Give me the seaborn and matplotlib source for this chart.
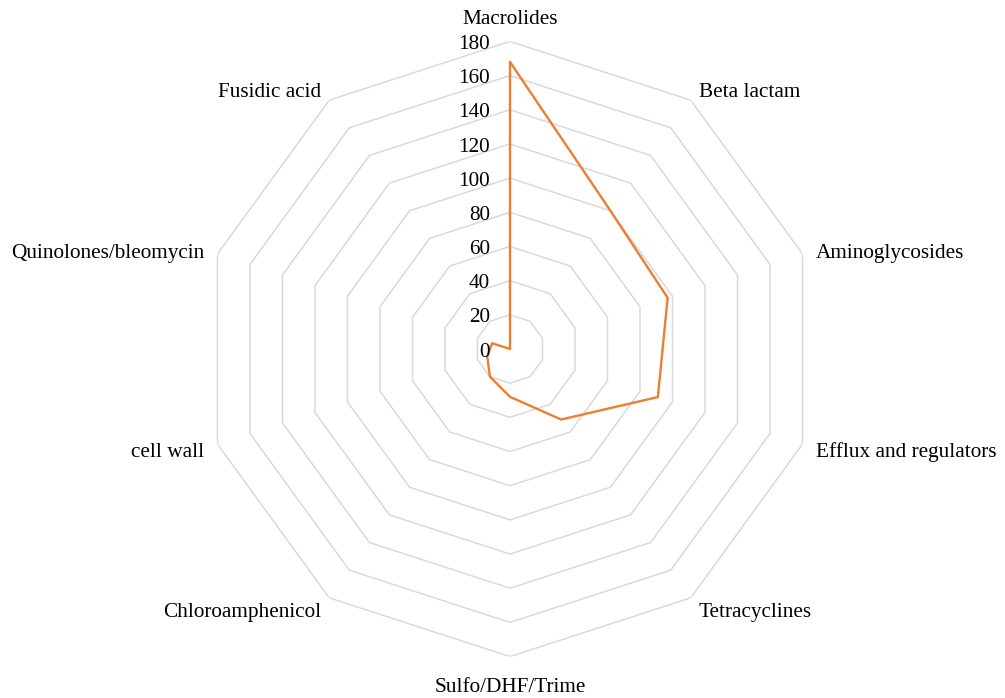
import numpy as np
import pandas as pd
import matplotlib
matplotlib.use("Agg")
import matplotlib.pyplot as plt
import seaborn as sns

categories = ["Macrolides", "Beta lactam", "Aminoglycosides", "Efflux and regulators",
              "Tetracyclines", "Sulfo/DHF/Trime", "Chloroamphenicol", "cell wall",
              "Quinolones/bleomycin", "Fusidic acid"]
values = [168, 100, 97, 91, 51, 28, 20, 14, 11, 0]
ring_ticks = [0, 20, 40, 60, 80, 100, 120, 140, 160, 180]

sns.set_theme(style="white")
plt.rcParams['font.family'] = ['Liberation Serif', 'DejaVu Serif']
FS = 15.3

n = len(categories)
angles = np.arange(n) * 2 * np.pi / n

df = pd.DataFrame({"angle": np.append(angles, angles[0]),
                   "value": values + values[:1]})

fig = plt.figure(figsize=(10.05, 6.98), dpi=100)
ax = fig.add_axes([0.2014, 0.0593, 0.6121, 0.8814], projection="polar")
ax.set_theta_zero_location("N")
ax.set_theta_direction(-1)

# polygon grid rings
for r in ring_ticks[1:]:
    ax.plot(np.append(angles, angles[0]), [r] * (n + 1), color="#d9d9d9", lw=1.1, zorder=1)

sns.lineplot(data=df, x="angle", y="value", sort=False, estimator=None,
             color="#ed7d31", lw=1.7, ax=ax, zorder=3)

ax.set_ylim(0, 180)
ax.grid(False)
ax.spines["polar"].set_visible(False)
ax.set_xticks([])
ax.set_yticks([])
ax.set_xlabel("")
ax.set_ylabel("")

# radial tick labels
for r in ring_ticks:
    ax.annotate(str(r), xy=(0, r), xytext=(-14.4, -2.2), textcoords="offset points",
                ha="right", va="center", fontsize=FS, color="black",
                annotation_clip=False)

# category labels
for a, name in zip(angles, categories):
    s = np.sin(a)
    c = np.cos(a)
    if abs(s) < 1e-6:
        ha = "center"
        va = "bottom" if c > 0 else "top"
        rr = 189
        dy = -2.2 if c > 0 else -4.5
    else:
        ha = "left" if s > 0 else "right"
        va = "center"
        rr = 188
        dy = -2.8
    ax.annotate(name, xy=(a, rr), xytext=(0, dy), textcoords="offset points",
                ha=ha, va=va, fontsize=FS, color="black", annotation_clip=False)

fig.savefig("out.png", dpi=100)
